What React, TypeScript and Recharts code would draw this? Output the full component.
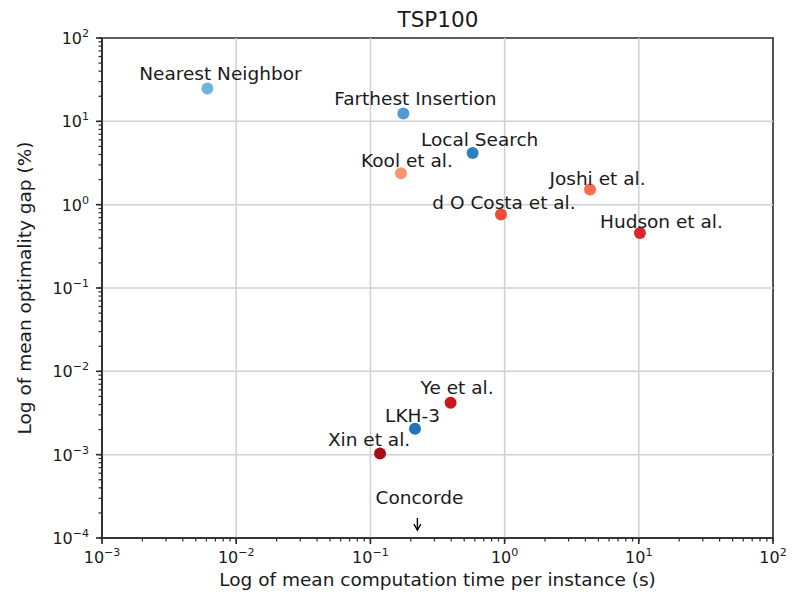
import { ScatterChart, Scatter, XAxis, YAxis, Cell, ReferenceArea, ReferenceDot, ReferenceLine } from "recharts";

const methods = [
  "Nearest Neighbor",
  "Farthest Insertion",
  "Local Search",
  "Kool et al.",
  "Joshi et al.",
  "d O Costa et al.",
  "Hudson et al.",
  "Ye et al.",
  "LKH-3",
  "Xin et al.",
];
const timeSec = [0.0061, 0.176, 0.578, 0.169, 4.33, 0.94, 10.2, 0.396, 0.215, 0.118];
const gapPct = [24.7, 12.4, 4.17, 2.39, 1.52, 0.76, 0.458, 0.0042, 0.00205, 0.00103];

const concordeTime = 0.224;

const xMajor = [0.001, 0.01, 0.1, 1, 10, 100];
const yMajor = [0.0001, 0.001, 0.01, 0.1, 1, 10, 100];
const minorMult = [2, 3, 4, 5, 6, 7, 8, 9];

// styles
const colors = ["#72b2dc", "#4f9bd1", "#2f80c0", "#fc9474", "#fb6c4c", "#f24a34", "#dd2628", "#cc171d", "#2473ba", "#a50f15"];
const labelDx = [13, 12, 7, 6, 7.5, 3, 21.5, 6.5, -2.5, -11];
const labelDy = [-8.5, -8.3, -7.3, -6, -5, -6, -5, -9, -6.7, -7.7];
const FONT = "DejaVu Sans, sans-serif";
const INK = "#1a1a1a";
const AXIS = "#2a2a2a";
const MINOR = 3.5;

const points = methods.map((name, i) => ({ name, time: timeSec[i], gap: gapPct[i], idx: i }));

const withMinor = (major: number[]) =>
  major.concat(major.slice(0, -1).flatMap(m => minorMult.map(k => +(m * k).toPrecision(3))));

const expOf = (v: number) => {
  const e = Math.round(Math.log10(v));
  return e < 0 ? "\u2212" + Math.abs(e) : String(e);
};
const isMajor = (v: number) => Math.abs(Math.log10(v) - Math.round(Math.log10(v))) < 1e-6;

// x, y arrive at the end of the (minor-length) tick line
function XTick(props: any) {
  const { x, y, payload } = props;
  if (!isMajor(payload.value)) return <g />;
  const y0 = y - MINOR;
  return (
    <g>
      <line x1={x} y1={y0} x2={x} y2={y0 + 6} stroke={AXIS} strokeWidth={1.6} />
      <text x={x} y={y0 + 25} textAnchor="middle" fontFamily={FONT} fontSize={16} fill={INK}>
        <tspan>10</tspan>
        <tspan dy={-7} fontSize={11}>{expOf(payload.value)}</tspan>
      </text>
    </g>
  );
}

function YTick(props: any) {
  const { x, y, payload } = props;
  if (!isMajor(payload.value)) return <g />;
  const x0 = x + MINOR;
  return (
    <g>
      <line x1={x0} y1={y} x2={x0 - 6} y2={y} stroke={AXIS} strokeWidth={1.6} />
      <text x={x0 - 13} y={y + 6} textAnchor="end" fontFamily={FONT} fontSize={16} fill={INK}>
        <tspan>10</tspan>
        <tspan dy={-7} fontSize={11}>{expOf(payload.value)}</tspan>
      </text>
    </g>
  );
}

function Dot(props: any) {
  const { cx, cy, payload, fill } = props;
  return (
    <g>
      <circle cx={cx} cy={cy} r={6} fill={fill} />
      <text x={cx + labelDx[payload.idx]} y={cy + labelDy[payload.idx]} textAnchor="middle" fontFamily={FONT} fontSize={18.5} fill={INK}>
        {payload.name}
      </text>
    </g>
  );
}

function ConcordeMark(props: any) {
  const { cx, cy } = props;
  return (
    <g>
      <text x={cx + 2} y={cy - 34} textAnchor="middle" fontFamily={FONT} fontSize={18.5} fill={INK}>Concorde</text>
      <line x1={cx} y1={cy - 20} x2={cx} y2={cy - 8} stroke="#000" strokeWidth={1.4} />
      <path d={`M ${cx - 3.5} ${cy - 14} L ${cx} ${cy - 8} L ${cx + 3.5} ${cy - 14}`} fill="none" stroke="#000" strokeWidth={1.4} />
    </g>
  );
}

export default function App() {
  return (
    <div style={{ position: "absolute", left: 0, top: 0, background: "#fff" }}>
      <ScatterChart width={799} height={600} margin={{ top: 38, right: 26, bottom: 0, left: 0 }}>
        {xMajor.slice(1, -1).map(v => (
          <ReferenceLine key={"gx" + v} x={v} stroke="#d0d0d0" strokeWidth={1.5} />
        ))}
        {yMajor.slice(1, -1).map(v => (
          <ReferenceLine key={"gy" + v} y={v} stroke="#d0d0d0" strokeWidth={1.5} />
        ))}
        <XAxis
          dataKey="time"
          type="number"
          scale="log"
          domain={[0.001, 100]}
          allowDataOverflow
          ticks={withMinor(xMajor)}
          interval={0}
          tick={<XTick />}
          tickLine={{ stroke: AXIS, strokeWidth: 1.2 }}
          tickSize={MINOR}
          tickMargin={0}
          height={62}
          axisLine={{ stroke: AXIS, strokeWidth: 1.6 }}
          label={{
            content: (p: any) => (
              <text x={p.viewBox.x + p.viewBox.width / 2} y={p.viewBox.y + 48} textAnchor="middle" fontFamily={FONT} fontSize={18.5} fill={INK}>
                Log of mean computation time per instance (s)
              </text>
            ),
          }}
        />
        <YAxis
          dataKey="gap"
          type="number"
          scale="log"
          domain={[0.0001, 100]}
          allowDataOverflow
          ticks={withMinor(yMajor)}
          interval={0}
          tick={<YTick />}
          tickLine={{ stroke: AXIS, strokeWidth: 1.2 }}
          tickSize={MINOR}
          tickMargin={0}
          width={102}
          axisLine={{ stroke: AXIS, strokeWidth: 1.6 }}
          label={{
            content: (p: any) => {
              const cy = p.viewBox.y + p.viewBox.height / 2;
              return (
                <text x={31} y={cy} transform={`rotate(-90 31 ${cy})`} textAnchor="middle" fontFamily={FONT} fontSize={18.5} fill={INK}>
                  Log of mean optimality gap (%)
                </text>
              );
            },
          }}
        />
        <ReferenceArea x1={0.001} x2={100} y1={0.0001} y2={100} fill="none" stroke={AXIS} strokeWidth={1.6} ifOverflow="visible" />
        <Scatter data={points} shape={<Dot />} isAnimationActive={false}>
          {points.map((p, i) => (
            <Cell key={p.name} fill={colors[i]} />
          ))}
        </Scatter>
        <ReferenceDot x={concordeTime} y={0.0001} ifOverflow="visible" shape={<ConcordeMark />} />
        <text x={438} y={27} textAnchor="middle" fontFamily={FONT} fontSize={21.5} fill={INK}>
          TSP100
        </text>
      </ScatterChart>
    </div>
  );
}
